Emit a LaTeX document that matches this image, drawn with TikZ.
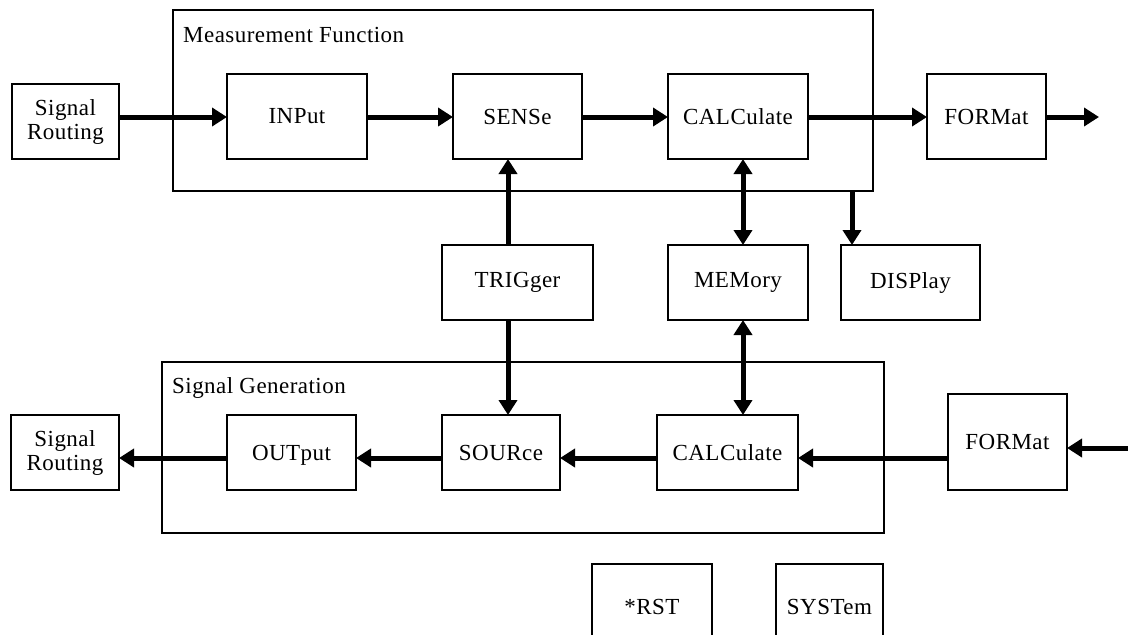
\documentclass[tikz,border=0pt]{standalone}
\usepackage{fontspec}
\setmainfont{Liberation Serif}[LetterSpace=2]
\usetikzlibrary{arrows.meta}
\begin{document}
\begin{tikzpicture}[x=1pt,y=-1pt,
  blk/.style={draw,line width=1.6pt,inner sep=0pt,outer sep=0pt,font=\fontsize{23}{24}\selectfont,align=center},
  grp/.style={draw,line width=1.6pt,inner sep=0pt,outer sep=0pt},
  lbl/.style={anchor=base west,inner sep=0pt,font=\fontsize{23}{24}\selectfont},
  arr/.style={line width=5pt,-{Triangle[length=15pt,width=18pt]}},
  darr/.style={line width=5pt,{Triangle[length=15pt,width=18pt]}-{Triangle[length=15pt,width=18pt]}}]
\clip (0,0) rectangle (1128,635);
\fill[white] (0,0) rectangle (1128,635);
% group frames
\node[grp,minimum width=700pt,minimum height=181pt,anchor=north west] (mf) at (173,10) {};
\node[lbl] (mflbl) at (183,42) {Measurement Function};
\node[grp,minimum width=722pt,minimum height=171pt,anchor=north west] (sg) at (162,362) {};
\node[lbl] (sglbl) at (172,393) {Signal Generation};
% top row
\node[blk,minimum width=107pt,minimum height=75pt,anchor=north west] (sr1) at (12,84) {Signal\\Routing};
\node[blk,minimum width=140pt,minimum height=85pt,anchor=north west] (inp) at (227,74) {INPut};
\node[blk,minimum width=129pt,minimum height=85pt,anchor=north west] (sense) at (453,74) {SENSe};
\node[blk,minimum width=140pt,minimum height=85pt,anchor=north west] (calc1) at (668,74) {CALCulate};
\node[blk,minimum width=119pt,minimum height=85pt,anchor=north west] (fmt1) at (927,74) {FORMat};
\coordinate (outend) at (1099,117);
% middle row
\node[blk,minimum width=151pt,minimum height=75pt,anchor=north west] (trig) at (442,245) {TRIGger};
\node[blk,minimum width=140pt,minimum height=75pt,anchor=north west] (mem) at (668,245) {MEMory};
\node[blk,minimum width=139pt,minimum height=75pt,anchor=north west] (disp) at (841,245) {DISPlay};
% bottom row
\node[blk,minimum width=108pt,minimum height=75pt,anchor=north west] (sr2) at (11,415) {Signal\\Routing};
\node[blk,minimum width=129pt,minimum height=75pt,anchor=north west,text depth=-2pt] (outp) at (227,415) {OUTput};
\node[blk,minimum width=118pt,minimum height=75pt,anchor=north west,text depth=-2pt] (src) at (442,415) {SOURce};
\node[blk,minimum width=141pt,minimum height=75pt,anchor=north west,text depth=-2pt] (calc2) at (657,415) {CALCulate};
\node[blk,minimum width=119pt,minimum height=96pt,anchor=north west,text depth=-4pt] (fmt2) at (948,394) {FORMat};
\coordinate (inend) at (1128,448);
% lowest boxes (cut by the page edge)
\node[blk,minimum width=120pt,minimum height=85pt,anchor=north west] (rst) at (592,564) {*RST};
\node[blk,minimum width=107pt,minimum height=85pt,anchor=north west] (sys) at (776,564) {SYSTem};
% helper columns and rows
\coordinate (tx) at (508,0);
\coordinate (mx) at (743,0);
\coordinate (dx) at (852,0);
\coordinate (ty) at (0,117);
\coordinate (by) at (0,458);
% top row connectors
\draw[arr] (sr1.east |- ty) -- (inp.west |- ty);
\draw[arr] (inp.east |- ty) -- (sense.west |- ty);
\draw[arr] (sense.east |- ty) -- (calc1.west |- ty);
\draw[arr] (calc1.east |- ty) -- (fmt1.west |- ty);
\draw[arr] (fmt1.east |- ty) -- (outend);
% vertical connectors
\draw[arr] (tx |- trig.north) -- (tx |- sense.south);
\draw[arr] (tx |- trig.south) -- (tx |- src.north);
\draw[darr] (mx |- calc1.south) -- (mx |- mem.north);
\draw[darr] (mx |- mem.south) -- (mx |- calc2.north);
\draw[arr] (dx |- mf.south) -- (dx |- disp.north);
% bottom row connectors
\draw[arr] (inend) -- (fmt2.east |- inend);
\draw[arr] (fmt2.west |- by) -- (calc2.east |- by);
\draw[arr] (calc2.west |- by) -- (src.east |- by);
\draw[arr] (src.west |- by) -- (outp.east |- by);
\draw[arr] (outp.west |- by) -- (sr2.east |- by);
\end{tikzpicture}
\end{document}
